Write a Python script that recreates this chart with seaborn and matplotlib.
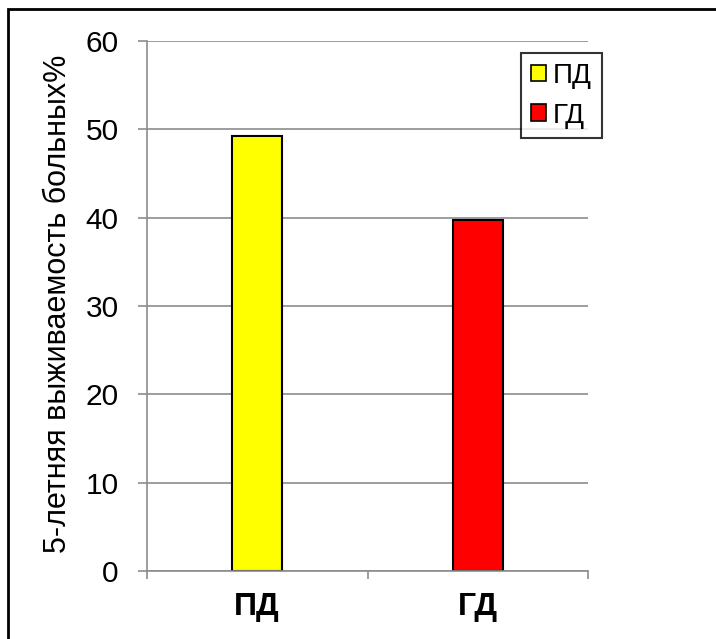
import matplotlib
matplotlib.use("Agg")
import matplotlib.pyplot as plt
import seaborn as sns
import pandas as pd
from matplotlib.patches import Rectangle, Patch

categories = ["ПД", "ГД"]
survival = [49.2, 39.7]
bar_colors = ["#FFFF00", "#FF0000"]
y_ticks = [0, 10, 20, 30, 40, 50, 60]
y_label = "5-летняя выживаемость больных%"

sns.set_style("white")
plt.rcParams["font.family"] = ["Liberation Sans", "DejaVu Sans"]
plt.rcParams["text.color"] = "black"
plt.rcParams["axes.labelcolor"] = "black"

W, H = 716, 639
fig = plt.figure(figsize=(W / 100, H / 100), dpi=100)
ax = fig.add_axes([147 / W, (H - 571) / H, (588 - 147) / W, (571 - 41) / H])

df = pd.DataFrame({"group": categories, "value": survival})
sns.barplot(data=df, x="group", y="value", hue="group", palette=bar_colors,
            saturation=1, width=0.227, edgecolor="black", linewidth=1.5,
            legend=False, ax=ax)

ax.set_ylim(0, 60)
ax.set_xlim(-0.5, 1.5)
ax.set_yticks(y_ticks)
ax.yaxis.grid(True, color="#8c8c8c", linewidth=1.2)
ax.set_axisbelow(True)

for side in ("top", "right"):
    ax.spines[side].set_visible(False)
for side in ("left", "bottom"):
    ax.spines[side].set_color("#8c8c8c")
    ax.spines[side].set_linewidth(1.2)

ax.tick_params(axis="y", which="major", left=True, length=6.5, width=1.2,
               color="#8c8c8c", labelcolor="black", labelsize=21.5, pad=14)
ax.tick_params(axis="x", which="major", length=0, labelcolor="black",
               labelsize=23, pad=15)
for lbl in ax.get_xticklabels():
    lbl.set_fontweight("bold")
ax.set_xticks([-0.5, 0.5, 1.5], minor=True)
ax.tick_params(axis="x", which="minor", bottom=True, length=6, width=1.2,
               color="#8c8c8c")

ax.set_xlabel("")
ax.set_ylabel(y_label, fontsize=22)
ax.yaxis.set_label_coords((73 - 147) / (588 - 147), 0.505)

handles = [Patch(facecolor=c, edgecolor="black", linewidth=1.2) for c in bar_colors]
leg = ax.legend(handles, categories, loc="upper left",
                bbox_to_anchor=((521 - 147) / 441, (571 - 53) / 530),
                fontsize=20, frameon=True, fancybox=False, borderpad=0.35,
                handlelength=0.55, handleheight=0.55, handletextpad=0.25,
                labelspacing=0.5, borderaxespad=0)
leg.get_frame().set_edgecolor("black")
leg.get_frame().set_linewidth(1.5)

fig.patches.append(Rectangle((8 / W, -0.1), 1.2, (H - 9) / H + 0.1,
                             transform=fig.transFigure, fill=False,
                             edgecolor="black", linewidth=2))

fig.savefig("out.png", dpi=100)
